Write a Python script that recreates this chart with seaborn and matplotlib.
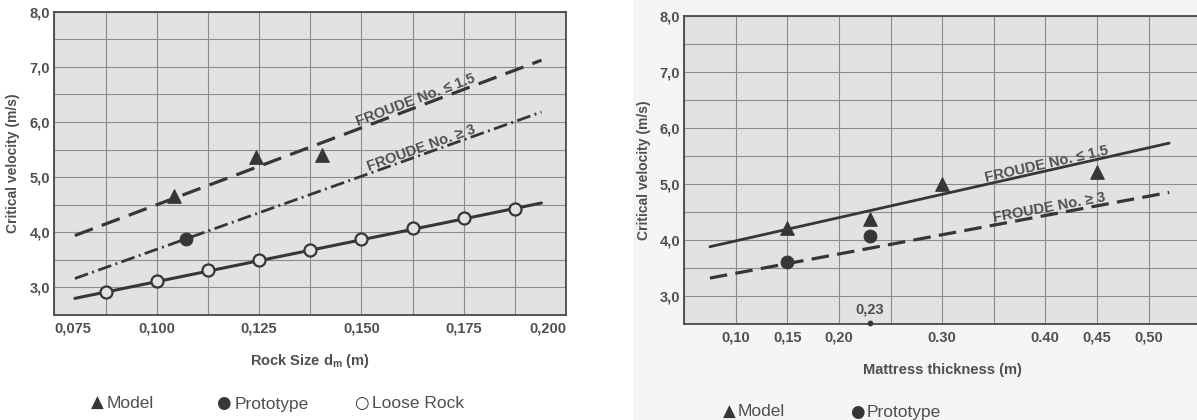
import matplotlib
matplotlib.use("Agg")
import matplotlib.pyplot as plt
import matplotlib.transforms as mtransforms
from matplotlib.patches import Rectangle
import numpy as np
import seaborn as sns

# ---- left panel: critical velocity vs rock size ----
rock_model_x = [0.1043, 0.1243, 0.1405]
rock_model_y = [4.66, 5.37, 5.40]
rock_proto_x = [0.1071]
rock_proto_y = [3.87]
loose_x = [0.0875, 0.100, 0.1125, 0.125, 0.1375, 0.150, 0.1625, 0.175, 0.1875]
loose_y = [2.91, 3.11, 3.31, 3.49, 3.68, 3.87, 4.07, 4.25, 4.42]
rock_line_x = [0.080, 0.194]
froude_low_rock = [3.94, 7.12]
froude_high_rock = [3.16, 6.18]
loose_fit = [2.80, 4.53]

rock_ticks = [0.075, 0.100, 0.125, 0.150, 0.175, 0.200]
rock_tick_labels = ["0,075", "0,100", "0,125", "0,150", "0,175", "0,200"]

# ---- right panel: critical velocity vs mattress thickness ----
mat_model_x = [0.15, 0.23, 0.30, 0.45]
mat_model_y = [4.22, 4.38, 5.00, 5.22]
mat_proto_x = [0.15, 0.23]
mat_proto_y = [3.61, 4.07]
mat_line_x = [0.075, 0.52]
froude_low_mat = [3.88, 5.73]
froude_high_mat = [3.32, 4.85]

mat_ticks = [0.10, 0.15, 0.20, 0.30, 0.40, 0.45, 0.50]
mat_tick_labels = ["0,10", "0,15", "0,20", "0.30", "0.40", "0,45", "0,50"]

v_ticks = [3, 4, 5, 6, 7, 8]
v_tick_labels = ["3,0", "4,0", "5,0", "6,0", "7,0", "8,0"]

BG = "#e2e2e2"
INK = "#363636"
TXT = "#4f4f4f"
GRID = "#8c8c8c"

sns.set_theme(style="whitegrid")
plt.rcParams["font.family"] = ["Liberation Sans", "DejaVu Sans"]
plt.rcParams["mathtext.fontset"] = "custom"
plt.rcParams["mathtext.rm"] = "Liberation Sans"
plt.rcParams["mathtext.bf"] = "Liberation Sans:bold"

fig = plt.figure(figsize=(11.97, 4.2), dpi=100)
fig.patch.set_facecolor("white")
# faint grey of the scanned right half
fig.add_artist(Rectangle((633 / 1197, 0), 1, 1, transform=fig.transFigure,
                         facecolor="#f5f5f5", edgecolor="none", zorder=-10))

ax1 = fig.add_axes([54.4 / 1197, 1 - 314.9 / 420, 511.6 / 1197, 303.2 / 420])
ax2 = fig.add_axes([684.1 / 1197, 1 - 324 / 420, 516 / 1197, 308 / 420])


def style_axes(ax, xlim, minor_x, ticks, labels, pad_x):
    ax.set_facecolor(BG)
    ax.set_xlim(*xlim)
    ax.set_ylim(2.5, 8.0)
    ax.set_xticks(ticks)
    ax.set_xticklabels(labels)
    ax.set_xticks(minor_x, minor=True)
    ax.set_yticks(v_ticks)
    ax.set_yticklabels(v_tick_labels)
    ax.set_yticks(np.arange(2.5, 8.01, 0.5), minor=True)
    ax.grid(which="both", color=GRID, linewidth=0.8)
    ax.tick_params(which="both", length=0, labelsize=10.5, labelcolor=TXT)
    ax.tick_params(axis="x", pad=pad_x)
    ax.tick_params(axis="y", pad=3)
    for lab in ax.get_xticklabels() + ax.get_yticklabels():
        lab.set_fontweight("bold")
    for sp in ax.spines.values():
        sp.set_color("#4a4a4a")
        sp.set_linewidth(1.3)
        sp.set_visible(True)
    ax.set_axisbelow(True)


def line_label(ax, xs, ys, x, text, offset=3):
    # text laid along the line, angle taken from the display coordinates
    p = ax.transData.transform(np.column_stack([xs, ys]))
    ang = np.degrees(np.arctan2(p[1, 1] - p[0, 1], p[1, 0] - p[0, 0]))
    y = np.interp(x, xs, ys)
    tr = mtransforms.offset_copy(ax.transData, fig=fig, x=0, y=offset, units="dots")
    ax.text(x, y, text, transform=tr, rotation=ang, rotation_mode="anchor",
            ha="center", va="baseline", fontsize=10.5, fontweight="bold", color=TXT)


style_axes(ax1, (0.075, 0.200), np.arange(0.075, 0.2001, 0.0125),
           rock_ticks, rock_tick_labels, 5)
labs = ax1.get_xticklabels()
labs[0].set_ha("left")
labs[-1].set_ha("right")

style_axes(ax2, (0.05, 0.55), np.arange(0.05, 0.5501, 0.05),
           mat_ticks, mat_tick_labels, 5)

# left panel lines
sns.lineplot(x=rock_line_x, y=froude_low_rock, ax=ax1, color=INK,
             linewidth=2.3, linestyle=(0, (6, 3)))
sns.lineplot(x=rock_line_x, y=froude_high_rock, ax=ax1, color=INK,
             linewidth=2.0, linestyle=(0, (5, 1.6, 0.7, 1.6)))
sns.lineplot(x=rock_line_x, y=loose_fit, ax=ax1, color=INK, linewidth=2.2)

sns.scatterplot(x=rock_model_x, y=rock_model_y, ax=ax1, marker="^", s=95,
                color=INK, edgecolor=INK, zorder=4)
sns.scatterplot(x=rock_proto_x, y=rock_proto_y, ax=ax1, marker="o", s=85,
                color=INK, edgecolor=INK, zorder=4)
sns.scatterplot(x=loose_x, y=loose_y, ax=ax1, marker="o", s=75,
                color=BG, edgecolor=INK, linewidth=1.6, zorder=4)

line_label(ax1, rock_line_x, froude_low_rock, 0.1636, "FROUDE No. \u2264 1.5")
line_label(ax1, rock_line_x, froude_high_rock, 0.165, "FROUDE No. \u2265 3")

ax1.set_xlabel(r"Rock Size d$_\mathbf{m}$ (m)", fontsize=10.5,
               fontweight="bold", color=TXT)
ax1.xaxis.set_label_coords(0.5, -0.152)
ax1.xaxis.label.set_va("center")
ax1.set_ylabel("Critical velocity (m/s)", fontsize=10,
               fontweight="bold", color=TXT)
ax1.yaxis.set_label_coords(-0.081, 0.5)
ax1.yaxis.label.set_va("center")

# right panel lines
sns.lineplot(x=mat_line_x, y=froude_low_mat, ax=ax2, color=INK, linewidth=2.0)
sns.lineplot(x=mat_line_x, y=froude_high_mat, ax=ax2, color=INK,
             linewidth=2.3, linestyle=(0, (5.5, 2.6)))

sns.scatterplot(x=mat_model_x, y=mat_model_y, ax=ax2, marker="^", s=95,
                color=INK, edgecolor=INK, zorder=4)
sns.scatterplot(x=mat_proto_x, y=mat_proto_y, ax=ax2, marker="o", s=85,
                color=INK, edgecolor=INK, zorder=4)

line_label(ax2, mat_line_x, froude_low_mat, 0.4017, "FROUDE No. \u2264 1.5")
line_label(ax2, mat_line_x, froude_high_mat, 0.4048, "FROUDE No. \u2265 3")

# 0,23 marker on the thickness axis
ax2.text(0.23, 2.76, "0,23", ha="center", va="center", fontsize=10.5,
         fontweight="bold", color=TXT)
ax2.scatter([0.23], [2.52], s=10, color=INK, clip_on=False, zorder=5)

ax2.set_xlabel("Mattress thickness (m)", fontsize=10.5, fontweight="bold", color=TXT)
ax2.xaxis.set_label_coords(0.5, -0.149)
ax2.xaxis.label.set_va("center")
ax2.set_ylabel("Critical velocity (m/s)", fontsize=10, fontweight="bold", color=TXT)
ax2.yaxis.set_label_coords(-0.078, 0.5)
ax2.yaxis.label.set_va("center")

for a in (ax1, ax2):
    if a.get_legend():
        a.get_legend().remove()

# legend rows drawn as text under each panel: glyph + label
leg_kw = dict(fontsize=12.5, color=TXT, va="center", ha="left")
glyph_kw = dict(fontsize=12, color=INK, va="center", ha="center",
                family="DejaVu Sans")
legend_left = [(97, "\u25b2", 107, "Model"),
               (223, "\u25cf", 235, "Prototype"),
               (361, "\u25cb", 372, "Loose Rock")]
for gx, glyph, tx, label in legend_left:
    fig.text(gx / 1197, 1 - 403 / 420, glyph, **glyph_kw)
    fig.text(tx / 1197, 1 - 404 / 420, label, **leg_kw)

legend_right = [(729, "\u25b2", 738, "Model"),
                (857, "\u25cf", 867, "Prototype")]
for gx, glyph, tx, label in legend_right:
    fig.text(gx / 1197, 1 - 412 / 420, glyph, **glyph_kw)
    fig.text(tx / 1197, 1 - 412 / 420, label, **leg_kw)

fig.savefig("out.png", dpi=100)
